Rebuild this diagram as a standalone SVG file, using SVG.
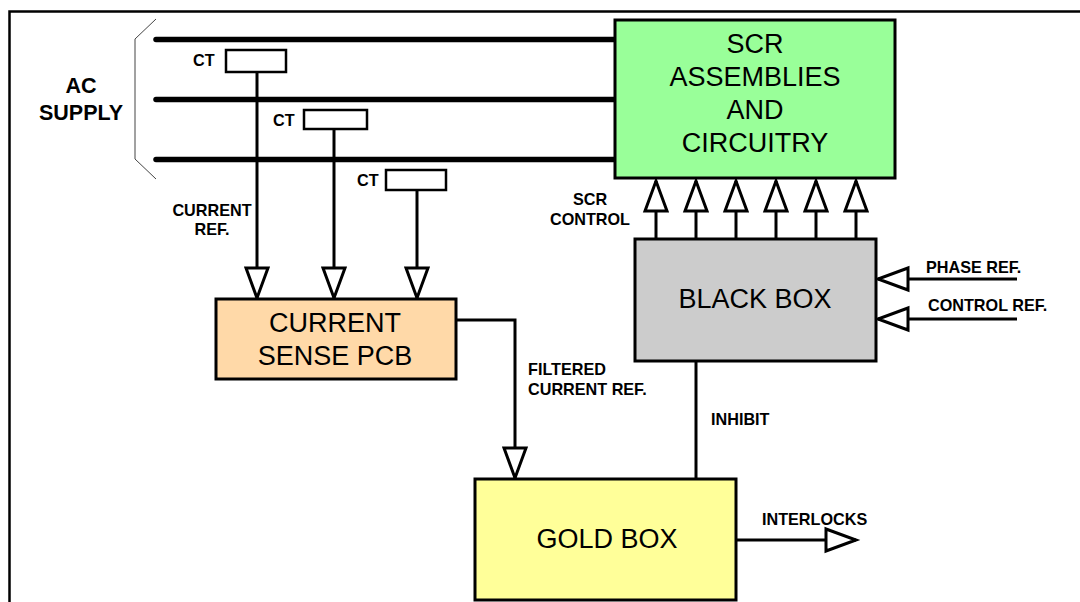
<svg xmlns="http://www.w3.org/2000/svg" width="1080" height="602" viewBox="0 0 1080 602">
<style>
.box{stroke:#000;stroke-width:3}
.big{font-family:"Liberation Sans",Arial,sans-serif;font-size:27px;fill:#000;text-anchor:middle}
.lbl{font-family:"Liberation Sans",Arial,sans-serif;font-size:16.2px;font-weight:bold;fill:#000}
.ac{font-family:"Liberation Sans",Arial,sans-serif;font-size:21.5px;font-weight:bold;fill:#000;text-anchor:middle}
.bus{stroke:#000;stroke-width:5.5;stroke-linecap:round;fill:none}
.wire{stroke:#000;stroke-width:3;fill:none}
.arr{stroke:#000;stroke-width:3;fill:none;marker-end:url(#tri)}
.ct{fill:#fff;stroke:#000;stroke-width:2.5}
</style>
<defs>
<marker id="tri" markerUnits="userSpaceOnUse" markerWidth="34" markerHeight="26" refX="30" refY="11" orient="auto" overflow="visible">
<path d="M0,0 L30,11 L0,22 Z" fill="#fff" stroke="#000" stroke-width="3" stroke-linejoin="miter"/>
</marker>
</defs>
<rect width="1080" height="602" fill="#fff"/>
<g id="frame">
<path d="M9.5,602 V11.5 H1080" fill="none" stroke="#000" stroke-width="2.5"/>
</g>
<g id="ac-supply">
<path d="M156,19 L135,39 V159 L156,179" fill="none" stroke="#444" stroke-width="1"/>
<text class="ac" x="81" y="93">AC</text>
<text class="ac" x="81" y="120">SUPPLY</text>
</g>
<g id="connectors">
<line class="bus" x1="156" y1="39.5" x2="616" y2="39.5"/>
<line class="bus" x1="156" y1="99.5" x2="616" y2="99.5"/>
<line class="bus" x1="156" y1="159.5" x2="616" y2="159.5"/>
<line class="arr" x1="257" y1="72" x2="257" y2="298"/>
<line class="arr" x1="334" y1="129" x2="334" y2="298"/>
<line class="arr" x1="417" y1="190" x2="417" y2="298"/>
<line class="arr" x1="656" y1="239" x2="656" y2="181"/>
<line class="arr" x1="696" y1="239" x2="696" y2="181"/>
<line class="arr" x1="736" y1="239" x2="736" y2="181"/>
<line class="arr" x1="776" y1="239" x2="776" y2="181"/>
<line class="arr" x1="816" y1="239" x2="816" y2="181"/>
<line class="arr" x1="856" y1="239" x2="856" y2="181"/>
<line class="arr" x1="1017" y1="279" x2="878" y2="279"/>
<line class="arr" x1="1017" y1="319" x2="878" y2="319"/>
<polyline class="arr" points="456,320 515,320 515,478"/>
<line class="wire" x1="696" y1="361" x2="696" y2="479"/>
<line class="arr" x1="736" y1="540" x2="856" y2="540"/>
</g>
<g id="ct1">
<rect class="ct" x="226" y="50" width="60" height="22"/>
<text class="lbl" x="193" y="66">CT</text>
</g>
<g id="ct2">
<rect class="ct" x="304" y="110" width="63" height="19"/>
<text class="lbl" x="273" y="126">CT</text>
</g>
<g id="ct3">
<rect class="ct" x="386" y="170" width="60" height="20"/>
<text class="lbl" x="357" y="186">CT</text>
</g>
<g id="scr">
<rect class="box" x="615" y="20" width="280" height="158" fill="#99ff99"/>
<text class="big" x="755" y="53">SCR</text>
<text class="big" x="755" y="86">ASSEMBLIES</text>
<text class="big" x="755" y="119">AND</text>
<text class="big" x="755" y="152">CIRCUITRY</text>
</g>
<g id="current-sense">
<rect class="box" x="216" y="299" width="240" height="80" fill="#ffd9a8"/>
<text class="big" x="335" y="332">CURRENT</text>
<text class="big" x="335" y="365">SENSE PCB</text>
</g>
<g id="black-box">
<rect class="box" x="635" y="239" width="241" height="122" fill="#cccccc"/>
<text class="big" x="755" y="308">BLACK BOX</text>
</g>
<g id="gold-box">
<rect class="box" x="475" y="479" width="261" height="121" fill="#ffff99"/>
<text class="big" x="607" y="548">GOLD BOX</text>
</g>
<g id="labels">
<text class="lbl" x="212" y="216" text-anchor="middle">CURRENT</text>
<text class="lbl" x="212" y="235" text-anchor="middle">REF.</text>
<text class="lbl" x="590" y="205" text-anchor="middle">SCR</text>
<text class="lbl" x="590" y="225" text-anchor="middle">CONTROL</text>
<text class="lbl" x="926" y="273">PHASE REF.</text>
<text class="lbl" x="928" y="311">CONTROL REF.</text>
<text class="lbl" x="528" y="375">FILTERED</text>
<text class="lbl" x="528" y="395">CURRENT REF.</text>
<text class="lbl" x="711" y="425">INHIBIT</text>
<text class="lbl" x="762" y="525">INTERLOCKS</text>
</g>
</svg>
